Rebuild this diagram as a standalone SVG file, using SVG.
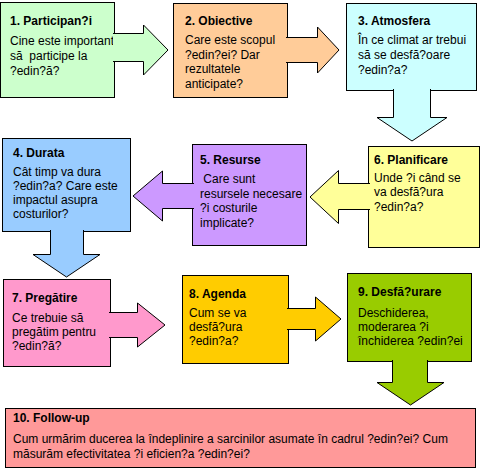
<svg xmlns="http://www.w3.org/2000/svg" width="483" height="472" viewBox="0 0 483 472">
<style>
.box{stroke:#000;stroke-width:1}
.arr{stroke:#000;stroke-width:1;stroke-linejoin:miter}
.t{font-family:"Liberation Sans",Arial,sans-serif;font-size:12px;font-weight:bold;fill:#000}
.b{font-family:"Liberation Sans",Arial,sans-serif;font-size:12px;fill:#000}
</style>
<rect x="0" y="0" width="483" height="472" fill="#fff"/>
<g id="node1">
<rect class="box" x="0.5" y="2.5" width="114" height="95" fill="#ccffcc"/>
<text class="t" x="10" y="25">1. Participan?i</text>
<text class="b" x="10" y="45">Cine este important</text>
<text class="b" x="10" y="60" xml:space="preserve">să  participe la</text>
<text class="b" x="10" y="75">?edin?ă?</text>
</g>
<g id="node2">
<rect class="box" x="173.5" y="3.5" width="114" height="94" fill="#ffcc99"/>
<text class="t" x="185" y="25">2. Obiective</text>
<text class="b" x="185" y="44">Care este scopul</text>
<text class="b" x="185" y="59">?edin?ei? Dar</text>
<text class="b" x="185" y="73">rezultatele</text>
<text class="b" x="185" y="88">anticipate?</text>
</g>
<g id="node3">
<rect class="box" x="346.5" y="3.5" width="130" height="87" fill="#ccffff"/>
<text class="t" x="358" y="25">3. Atmosfera</text>
<text class="b" x="358" y="44">În ce climat ar trebui</text>
<text class="b" x="358" y="59">să se desfă?oare</text>
<text class="b" x="358" y="74">?edin?a?</text>
</g>
<g id="node4">
<rect class="box" x="2.5" y="138.5" width="128" height="93" fill="#99ccff"/>
<text class="t" x="13" y="157">4. Durata</text>
<text class="b" x="13" y="176">Cât timp va dura</text>
<text class="b" x="13" y="190">?edin?a? Care este</text>
<text class="b" x="13" y="204">impactul asupra</text>
<text class="b" x="13" y="218">costurilor?</text>
</g>
<g id="node5">
<rect class="box" x="192.5" y="144.5" width="114" height="101" fill="#cc99ff"/>
<text class="t" x="200" y="164">5. Resurse</text>
<text class="b" x="200" y="183" xml:space="preserve"> Care sunt</text>
<text class="b" x="200" y="198">resursele necesare</text>
<text class="b" x="200" y="212">?i costurile</text>
<text class="b" x="200" y="227">implicate?</text>
</g>
<g id="node6">
<rect class="box" x="368.5" y="146.5" width="111" height="101" fill="#ffff99"/>
<text class="t" x="374" y="164">6. Planificare</text>
<text class="b" x="374" y="182">Unde ?i când se</text>
<text class="b" x="374" y="196">va desfă?ura</text>
<text class="b" x="374" y="211">?edin?a?</text>
</g>
<g id="node7">
<rect class="box" x="3.5" y="279.5" width="107" height="87" fill="#ff99cc"/>
<text class="t" x="12" y="302">7. Pregătire</text>
<text class="b" x="12" y="322">Ce trebuie să</text>
<text class="b" x="12" y="336">pregătim pentru</text>
<text class="b" x="12" y="350">?edin?ă?</text>
</g>
<g id="node8">
<rect class="box" x="182.5" y="275.5" width="106" height="88" fill="#ffcc00"/>
<text class="t" x="189" y="298">8. Agenda</text>
<text class="b" x="189" y="317">Cum se va</text>
<text class="b" x="189" y="331">desfă?ura</text>
<text class="b" x="189" y="345">?edin?a?</text>
</g>
<g id="node9">
<rect class="box" x="347.5" y="273.5" width="124" height="88" fill="#99cc00"/>
<text class="t" x="358" y="296">9. Desfă?urare</text>
<text class="b" x="358" y="317">Deschiderea,</text>
<text class="b" x="358" y="331">moderarea ?i</text>
<text class="b" x="358" y="345">închiderea ?edin?ei</text>
</g>
<g id="node10">
<rect class="box" x="5.5" y="408.5" width="470" height="59" fill="#ff9999"/>
<text class="t" x="13" y="422">10. Follow-up</text>
<text class="b" x="13" y="443">Cum urmărim ducerea la îndeplinire a sarcinilor asumate în cadrul ?edin?ei? Cum</text>
<text class="b" x="13" y="458">măsurăm efectivitatea ?i eficien?a ?edin?ei?</text>
</g>
<g id="connectors">
<path class="arr" fill="#ccffcc" d="M113,33.5 H143.5 V25 L168,50 L143.5,75 V61.5 H113"/>
<path class="arr" fill="#ffcc99" d="M286,37.5 H317.5 V27 L339,50 L317.5,73 V62.5 H286"/>
<path class="arr" fill="#ccffff" d="M393.5,89 V117.5 H377 L412,141 L447,117.5 H430.5 V89"/>
<path class="arr" fill="#ffff99" d="M370,183.5 H338.5 V170.5 L310,197 L338.5,223.5 V209.5 H370"/>
<path class="arr" fill="#cc99ff" d="M194,183.5 H162.5 V171 L133,196 L162.5,221 V208.5 H194"/>
<path class="arr" fill="#99ccff" d="M50.5,230 V254.5 H33 L66.5,277 L100,254.5 H83.5 V230"/>
<path class="arr" fill="#ff99cc" d="M109,312.5 H137.5 V303 L165,325 L137.5,347 V337.5 H109"/>
<path class="arr" fill="#ffcc00" d="M287,308.5 H315.5 V297 L341,319 L315.5,341 V329.5 H287"/>
<path class="arr" fill="#99cc00" d="M392.5,360 V382.5 H377 L410.5,405 L444,382.5 H427.5 V360"/>
</g>
</svg>
